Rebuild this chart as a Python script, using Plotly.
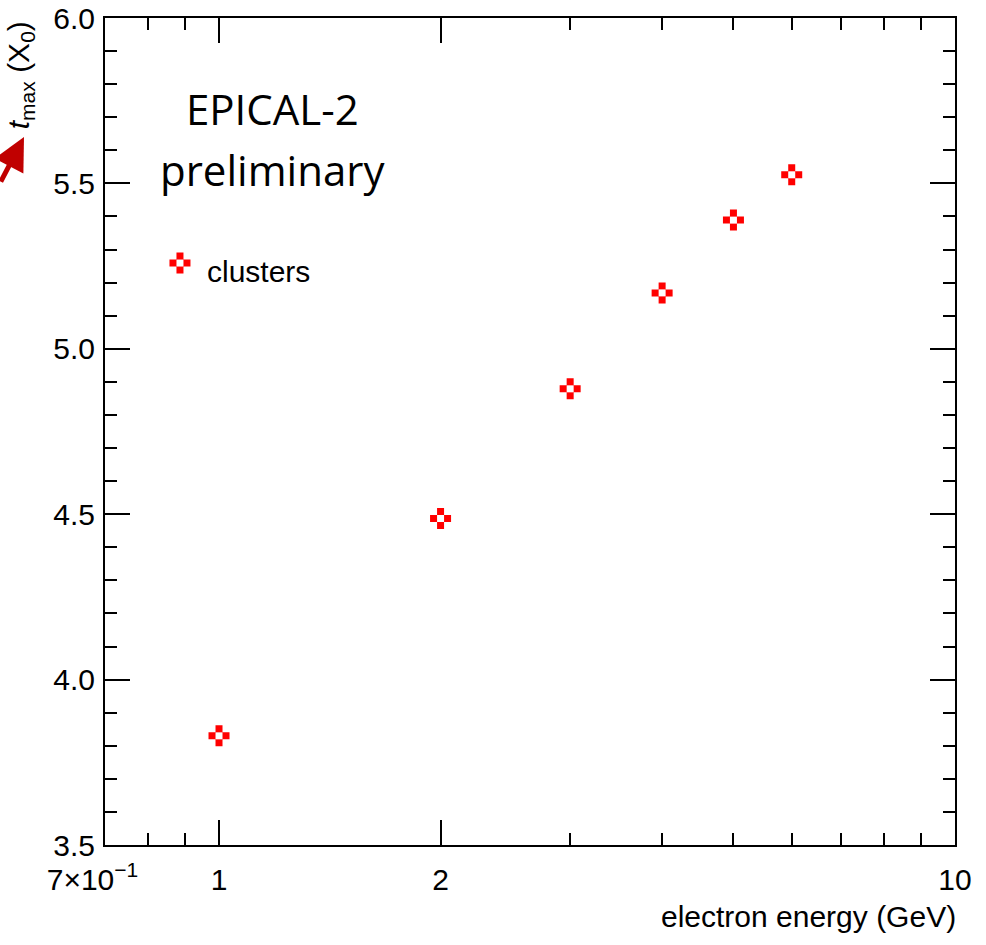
import math
import plotly.graph_objects as go

energy = [1, 2, 3, 4, 5, 6]
tmax = [3.83, 4.487, 4.879, 5.169, 5.389, 5.526]
legend_label = "clusters"
x_tick_vals = [0.7, 1, 2, 10]
x_tick_text = ["7×10<sup>−1</sup>\u00a0\u00a0\u00a0", "1", "2", "10"]
x_minor_vals = [0.8, 0.9, 3, 4, 5, 6, 7, 8, 9]
y_range = [3.5, 6.0]
x_range = [0.7, 10]

RED = "#ff0000"
SANS = "Liberation Sans, Arial, sans-serif"
TICKFONT = dict(family=SANS, size=30, color="black")

fig = go.Figure()
# data markers: red plus with white hollow centre
fig.add_trace(go.Scatter(x=energy, y=tmax, mode="markers", showlegend=False,
                         marker=dict(symbol="cross", size=17.5, color=RED, line=dict(width=0))))
fig.add_trace(go.Scatter(x=energy, y=tmax, mode="markers", showlegend=False, hoverinfo="skip",
                         marker=dict(symbol="square", size=7, color="white", line=dict(width=0))))
# legend key on hidden overlay axes
fig.add_trace(go.Scatter(x=[0.0882], y=[0.7037], xaxis="x2", yaxis="y2", mode="markers", showlegend=False,
                         marker=dict(symbol="cross", size=17.5, color=RED, line=dict(width=0))))
fig.add_trace(go.Scatter(x=[0.0882], y=[0.7037], xaxis="x2", yaxis="y2", mode="markers", showlegend=False,
                         marker=dict(symbol="square", size=7, color="white", line=dict(width=0))))

fig.update_layout(
    width=986, height=945,
    margin=dict(l=105, r=31, t=18, b=100, autoexpand=False),
    paper_bgcolor="white", plot_bgcolor="white",
    showlegend=False,
    xaxis=dict(type="log", range=[math.log10(x_range[0]), math.log10(x_range[1])],
               tickmode="array", tickvals=x_tick_vals, ticktext=x_tick_text,
               ticks="inside", ticklen=25, tickwidth=1.5, tickcolor="black",
               minor=dict(tickmode="array", tickvals=x_minor_vals, ticks="inside", ticklen=12,
                          tickwidth=1.5, tickcolor="black", showgrid=False),
               showline=True, linewidth=2, linecolor="black", mirror="ticks", automargin=False,
               showgrid=False, zeroline=False, tickfont=TICKFONT, ticklabelstandoff=7),
    yaxis=dict(range=y_range, tickmode="linear", tick0=3.5, dtick=0.5, tickformat=".1f",
               ticks="inside", ticklen=25, tickwidth=1.5, tickcolor="black",
               minor=dict(dtick=0.1, ticks="inside", ticklen=12, tickwidth=1.5, tickcolor="black", showgrid=False),
               showline=True, linewidth=2, linecolor="black", mirror="ticks", automargin=False,
               showgrid=False, zeroline=False, tickfont=TICKFONT, ticklabelstandoff=2),
    xaxis2=dict(overlaying="x", range=[0, 1], visible=False, fixedrange=True),
    yaxis2=dict(overlaying="y", range=[0, 1], visible=False, fixedrange=True),
)

TITLEFONT = dict(family="Open Sans, sans-serif", size=42, color="black")
fig.add_annotation(text="EPICAL-2", xref="paper", yref="paper", x=0.1976, y=0.890,
                   showarrow=False, font=TITLEFONT, xanchor="center", yanchor="middle")
fig.add_annotation(text="preliminary", xref="paper", yref="paper", x=0.1976, y=0.817,
                   showarrow=False, font=TITLEFONT, xanchor="center", yanchor="middle")
fig.add_annotation(text=legend_label, xref="paper", yref="paper", x=0.1176, y=0.694,
                   showarrow=False, font=dict(family=SANS, size=30, color="black"),
                   xanchor="left", yanchor="middle")
fig.add_annotation(text="electron energy (GeV)", xref="paper", yref="paper", x=1.004, y=-0.086,
                   showarrow=False, font=dict(family=SANS, size=30, color="black"),
                   xanchor="right", yanchor="middle")
fig.add_annotation(text="<i>t</i><sub>max</sub> (X<sub>0</sub>)", xref="paper", yref="paper",
                   x=-0.1, y=0.9985, textangle=-90,
                   showarrow=False, font=dict(family=SANS, size=30, color="black"),
                   xanchor="center", yanchor="top")
fig.add_annotation(text="", xref="paper", yref="paper", x=-0.0953, y=0.856,
                   showarrow=True, ax=-30, ay=46, arrowcolor="#c00000", arrowwidth=5,
                   arrowhead=2, arrowsize=1.3, standoff=0)

fig.write_html("out.html")
